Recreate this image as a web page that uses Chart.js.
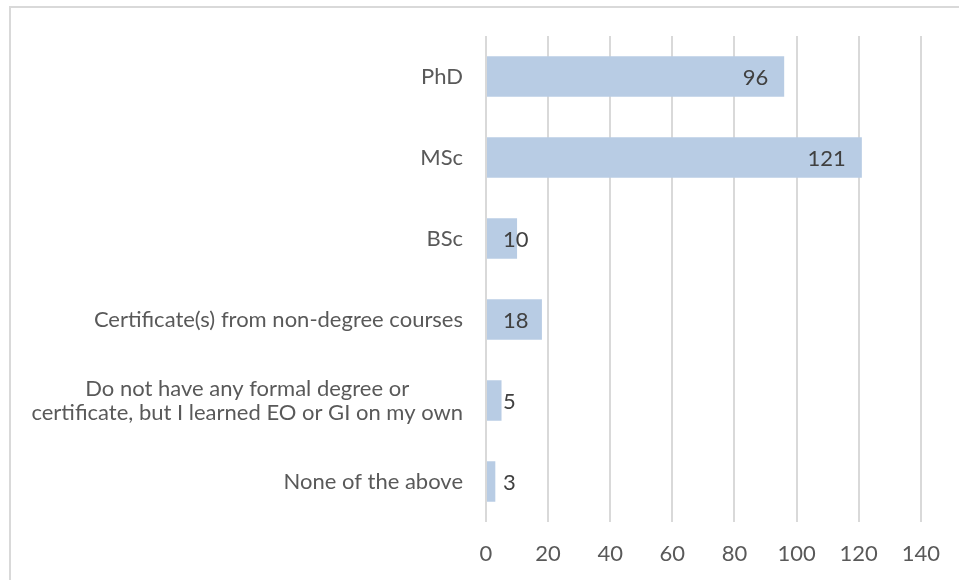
<!DOCTYPE html>
<html>
<head>
<meta charset="utf-8">
<script src="https://cdn.jsdelivr.net/npm/chart.js@4/dist/chart.umd.min.js"></script>
<style>
    html, body { margin: 0; padding: 0; background: #fff; overflow: hidden; }
    #wrap { position: relative; width: 959px; height: 580px; }
    /* chart frame, only top and left edges show in the crop */
    #frame {
        position: absolute; left: 9px; top: 6px; width: 1000px; height: 640px;
        border: 2px solid #d9d9d9; box-sizing: border-box;
    }
    canvas { position: absolute; left: 0; top: 0; }
</style>
</head>
<body>
<div id="wrap">
    <div id="frame"></div>
    <canvas id="chart" width="959" height="580"></canvas>
</div>
<script>
// Data
const categories = [
    ["PhD"],
    ["MSc"],
    ["BSc"],
    ["Certificate(s) from non-degree courses"],
    ["Do not have any formal degree or", "certificate, but I learned EO or GI on my own"],
    ["None of the above"]
];
const counts = [96, 121, 10, 18, 5, 3];
const xTicks = [0, 20, 40, 60, 80, 100, 120, 140];

const FONT = "Lato, 'Open Sans', sans-serif";

// Category labels: right aligned, multi-line ones centred on each other
const categoryLabels = {
    id: "categoryLabels",
    afterDraw(chart) {
        const ctx = chart.ctx;
        const y = chart.scales.y;
        const right = chart.chartArea.left - 23;
        ctx.save();
        ctx.font = "22px " + FONT;
        ctx.fillStyle = "#595959";
        ctx.textBaseline = "middle";
        ctx.textAlign = "center";
        const lh = 24;
        categories.forEach((lines, i) => {
            const cy = y.getPixelForValue(i);
            const maxW = Math.max(...lines.map((l) => ctx.measureText(l).width));
            const cx = right - maxW / 2;
            lines.forEach((l, j) => {
                ctx.fillText(l, cx, cy + (j - (lines.length - 1) / 2) * lh);
            });
        });
        ctx.restore();
    }
};

// Value labels near the inside end of each bar
const valueLabels = {
    id: "valueLabels",
    afterDatasetsDraw(chart) {
        const ctx = chart.ctx;
        const meta = chart.getDatasetMeta(0);
        ctx.save();
        ctx.font = "22px " + FONT;
        ctx.fillStyle = "#404040";
        ctx.textBaseline = "middle";
        ctx.textAlign = "left";
        meta.data.forEach((bar, i) => {
            const txt = String(counts[i]);
            const w = ctx.measureText(txt).width;
            const x = Math.max(bar.x - 16 - w, bar.base + 16);
            ctx.fillText(txt, x, bar.y + 1);
        });
        ctx.restore();
    }
};

new Chart(document.getElementById("chart"), {
    type: "bar",
    data: {
        labels: categories,
        datasets: [
            {
                data: counts,
                backgroundColor: "#b8cce4",
                categoryPercentage: 1,
                barPercentage: 0.5,
            },
        ],
    },
    options: {
        indexAxis: "y",
        responsive: false,
        animation: false,
        layout: { padding: { top: 36, right: 35, bottom: 0, left: 0 } },
        plugins: { legend: { display: false }, tooltip: { enabled: false } },
        scales: {
            x: {
                min: 0,
                max: 140,
                afterBuildTicks(scale) {
                    scale.ticks = xTicks.map((v) => ({ value: v }));
                },
                afterFit(scale) { scale.height = 58; },
                grid: { color: "#d9d9d9", lineWidth: 2, drawTicks: false },
                border: { display: false },
                ticks: {
                    padding: 19,
                    color: "#595959",
                    font: { family: FONT, size: 22 },
                },
            },
            y: {
                afterFit(scale) { scale.width = 486; },
                grid: { display: false },
                border: { display: false },
                ticks: { display: false },
            },
        },
    },
    plugins: [categoryLabels, valueLabels],
});
</script>
</body>
</html>
